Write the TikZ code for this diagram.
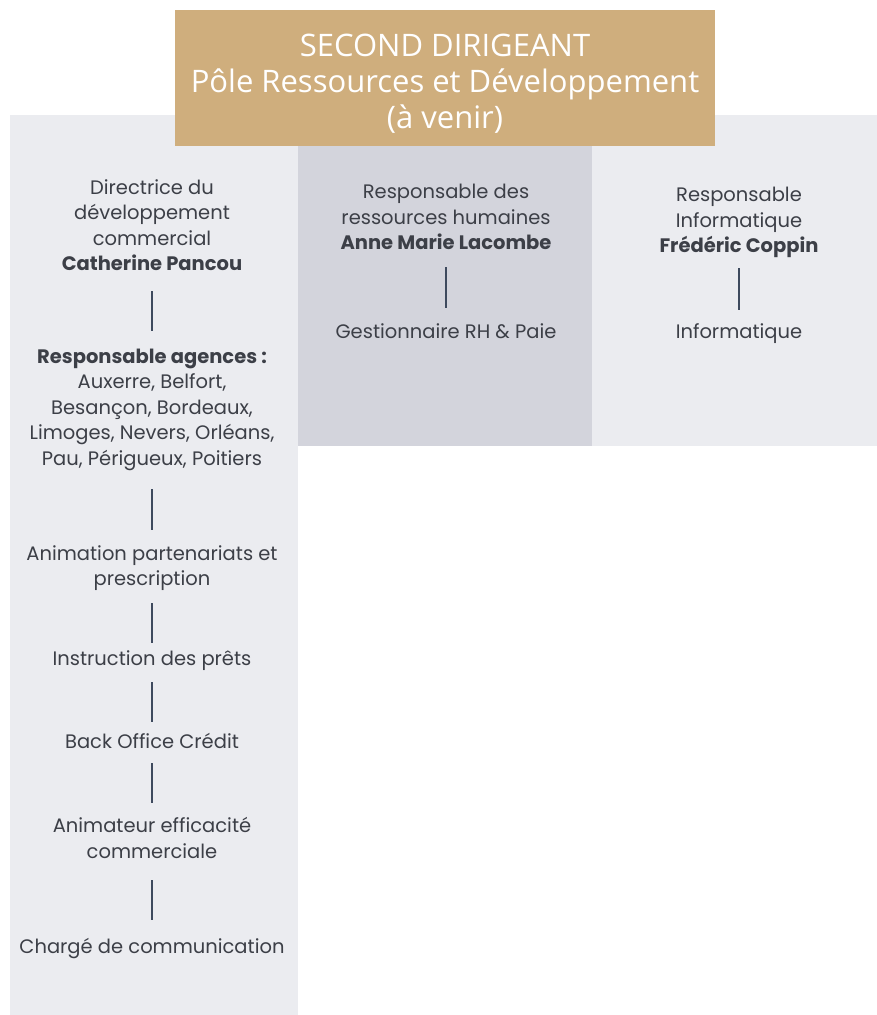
\documentclass[tikz,border=0pt]{standalone}
\usepackage{fontspec}
\setmainfont{Poppins}
\newfontfamily\titlefont{Open Sans}
\definecolor{gold}{HTML}{CFAE7D}
\definecolor{panel}{HTML}{EBECF0}
\definecolor{panelmid}{HTML}{D3D4DC}
\definecolor{ink}{HTML}{3C3F47}
\definecolor{linkblue}{HTML}{3E4A5E}
\tikzset{
	box/.style={inner sep=0pt, align=center, text=ink, font=\fontsize{19.5}{25.5}\selectfont},
	link/.style={draw=linkblue, line width=1.1pt}
}
\begin{document}
\begin{tikzpicture}[x=1pt,y=-1pt]
	\useasboundingbox (0,0) rectangle (877,1015);
	% panels
	\fill[panel] (10,115) rectangle (298,1015);
	\fill[panelmid] (298,115) rectangle (592,446);
	\fill[panel] (592,115) rectangle (877,446);
	\node[fill=gold, minimum width=540pt, minimum height=136pt, inner sep=0pt] (head) at (445,78) {};
	\node[align=center, text=white, font=\titlefont\fontsize{31}{36}\selectfont] (title) at (445,84)
		{SECOND DIRIGEANT\\Pôle Ressources et Développement\\(à venir)};

	% left column
	\node[box] (dir) at (152,225) {Directrice du\\développement\\commercial\\{\bfseries Catherine Pancou}};
	\node[box] (agences) at (152,409.5) {{\bfseries Responsable agences :}\\Auxerre, Belfort,\\Besançon, Bordeaux,\\Limoges, Nevers, Orléans,\\Pau, Périgueux, Poitiers};
	\node[box] (anim) at (152,568) {Animation partenariats et\\prescription};
	\node[box] (instr) at (152,661) {Instruction des prêts};
	\node[box] (back) at (152,741) {Back Office Crédit};
	\node[box] (animeff) at (152,838) {Animateur efficacité\\commerciale};
	\node[box] (charge) at (152,948) {Chargé de communication};

	% middle and right columns
	\node[box] (rh) at (446,217) {Responsable des\\ressources humaines\\{\bfseries Anne Marie Lacombe}};
	\node[box] (gest) at (446,331) {Gestionnaire RH \& Paie};
	\node[box] (info) at (739,222.5) {Responsable\\Informatique\\{\bfseries Frédéric Coppin}};
	\node[box] (infoserv) at (739,334) {Informatique};

	\foreach \a/\b/\t/\u in {dir/agences/291/331, agences/anim/489/530, anim/instr/603/643,
		instr/back/682/722, back/animeff/763/803, animeff/charge/880/920,
		rh/gest/267/308, info/infoserv/268/310} {
		\draw[link] (\a |- 0,\t) -- (\b |- 0,\u);
	}
\end{tikzpicture}
\end{document}
